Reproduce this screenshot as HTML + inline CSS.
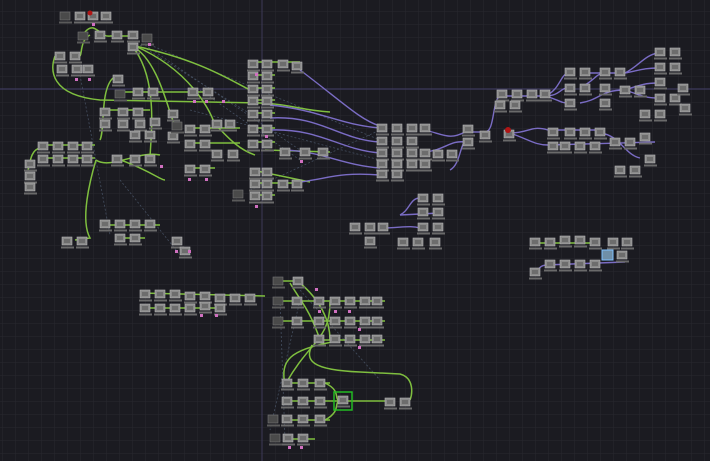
<!DOCTYPE html>
<html><head><meta charset="utf-8"><style>
html,body{margin:0;padding:0;background:#1b1b21;width:710px;height:461px;overflow:hidden}
</style></head><body>
<svg width="710" height="461" viewBox="0 0 710 461" xmlns="http://www.w3.org/2000/svg">
<defs>
<pattern id="g" width="13" height="13" patternUnits="userSpaceOnUse" x="2" y="11">
<path d="M13 0H0V13" fill="none" stroke="#282830" stroke-width="1"/></pattern>
<g id="n"><rect x="0" y="0" width="10" height="8" fill="#8a8a8a" stroke="#b5b5b5" stroke-width="0.6"/><rect x="2" y="2" width="6" height="4" fill="#6d6d6d"/><rect x="-1" y="9.5" width="13" height="2" fill="#6a6a6a"/></g>
<g id="d"><rect x="0" y="0" width="10" height="8" fill="#4a4a4a" stroke="#777" stroke-width="0.6"/><rect x="-1" y="9.5" width="13" height="2" fill="#5a5a5a"/></g>
</defs>
<rect width="710" height="461" fill="#1b1b21"/>
<rect width="710" height="461" fill="url(#g)"/>
<line x1="0" y1="89" x2="710" y2="89" stroke="#45406a" stroke-width="1"/>
<line x1="262" y1="0" x2="262" y2="461" stroke="#3c3a58" stroke-width="1"/>

<!-- dashed faint connections -->
<g stroke="#4d5a6e" stroke-width="0.8" stroke-dasharray="2,2" fill="none" opacity="0.8">
<path d="M145 45 L300 150"/><path d="M150 45 L380 140"/><path d="M140 45 L260 120"/>
<path d="M80 75 L110 235"/><path d="M200 90 L300 160"/><path d="M190 110 L380 160"/>
<path d="M300 290 L380 380"/><path d="M280 300 L285 440"/><path d="M300 300 L270 430"/>
<path d="M120 180 L180 255"/><path d="M250 190 L380 130"/>
</g>

<!-- green connections -->
<g stroke="#7fbf3f" stroke-width="1.5" fill="none">
<path d="M85 32 C95 20 100 38 110 36"/><path d="M110 36 L128 36"/>
<path d="M90 35 C80 40 82 55 80 56"/>
<path d="M132 46 C160 60 170 120 175 125"/><path d="M135 46 C200 60 230 80 250 90"/>
<path d="M135 46 C190 70 210 110 215 125"/><path d="M132 46 C160 80 150 140 150 160"/>
<path d="M55 56 C50 70 50 95 100 100 L260 103 C290 104 300 110 330 112"/>
<path d="M113 78 C100 90 105 130 100 140"/>
<path d="M120 92 L140 92 L210 92"/><path d="M100 110 L150 110"/>
<path d="M42 145 L95 145"/><path d="M42 158 L95 158"/>
<path d="M40 148 C30 150 30 165 28 170"/>
<path d="M96 160 C110 170 140 150 160 155"/>
<path d="M96 160 C90 180 80 220 90 238 L75 240"/>
<path d="M115 158 C150 170 160 180 165 180"/>
<path d="M185 128 L240 128"/><path d="M185 143 L240 143"/><path d="M185 168 L215 168"/>
<path d="M215 124 C230 140 240 150 255 155"/>
<path d="M250 62 L300 62"/><path d="M250 75 L275 75"/>
<path d="M250 88 L275 88"/><path d="M250 100 L275 100"/><path d="M250 113 L275 113"/>
<path d="M250 128 L275 128"/><path d="M250 142 L275 142"/><path d="M265 150 L330 152"/>
<path d="M252 170 L310 182"/><path d="M252 183 L300 183"/><path d="M252 195 L275 195"/>
<path d="M100 225 L160 225"/><path d="M115 238 L145 238"/>
<path d="M140 293 L265 296"/><path d="M140 308 L225 308"/>
<path d="M283 281 L300 281"/><path d="M283 301 L385 301"/><path d="M283 321 L385 321"/>
<path d="M290 283 C300 300 310 310 320 340"/><path d="M300 283 C320 300 330 320 330 340"/>
<path d="M314 340 L385 340"/>
<path d="M330 302 C330 340 310 340 285 385"/>
<path d="M332 342 C290 350 280 360 285 385"/>
<path d="M312 345 C305 360 310 370 360 372 L400 374 C415 378 412 395 410 400"/>
<path d="M285 383 L330 383"/><path d="M285 401 L395 401"/><path d="M285 420 L330 420"/>
<path d="M325 383 C340 390 335 398 338 400"/><path d="M325 420 C340 412 335 404 338 402"/>
<path d="M285 439 L315 439"/>
<path d="M533 243 L600 243"/>
</g>

<!-- purple connections -->
<g stroke="#7a6cc4" stroke-width="1.4" fill="none">
<path d="M270 105 C320 110 340 125 380 128"/><path d="M270 118 C320 115 340 140 380 142"/>
<path d="M270 130 C320 128 340 150 380 153"/><path d="M280 150 C320 150 340 165 380 168"/>
<path d="M300 182 C330 178 340 172 380 175"/><path d="M300 70 C340 100 360 120 380 126"/>
<path d="M425 130 C445 135 450 140 465 132"/><path d="M425 152 C445 150 450 140 465 142"/>
<path d="M450 170 C460 165 460 145 465 142"/><path d="M470 132 L485 132"/>
<path d="M485 132 C495 132 492 100 500 96"/><path d="M500 96 L545 96"/>
<path d="M545 96 C560 90 560 75 568 73"/><path d="M545 96 C560 96 560 88 568 88"/><path d="M545 96 C560 100 560 103 568 103"/>
<path d="M580 73 L625 73"/><path d="M580 88 C595 80 595 75 603 73"/><path d="M580 103 C600 100 600 90 625 90"/>
<path d="M625 73 C640 65 645 55 658 53"/><path d="M625 73 C640 70 645 68 658 68"/><path d="M625 90 C640 85 645 83 658 83"/><path d="M625 90 C640 95 645 98 658 98"/>
<path d="M510 133 C530 133 530 125 548 130"/><path d="M510 133 C530 140 535 145 548 145"/>
<path d="M548 130 L600 130"/><path d="M548 145 L655 142"/><path d="M600 133 C620 135 625 155 640 158"/>
<path d="M400 215 C410 210 410 198 420 198"/><path d="M400 215 L440 213"/><path d="M380 228 C400 228 410 225 420 228"/>
<path d="M545 265 L625 262"/><path d="M535 273 C540 268 540 265 548 265"/>
</g>

<!-- left cluster nodes -->
<use href="#d" x="60" y="12"/><use href="#n" x="75" y="12"/><use href="#n" x="88" y="12"/><use href="#n" x="101" y="12"/>
<circle cx="90" cy="13" r="2.5" fill="#b01515"/>
<use href="#d" x="78" y="32"/><use href="#n" x="95" y="31"/><use href="#n" x="112" y="31"/><use href="#n" x="128" y="31"/><use href="#n" x="128" y="43"/><use href="#d" x="142" y="34"/>
<use href="#n" x="55" y="52"/><use href="#n" x="70" y="52"/><use href="#n" x="57" y="65"/><use href="#n" x="72" y="65"/><use href="#n" x="83" y="65"/>
<use href="#n" x="113" y="75"/><use href="#d" x="115" y="90"/><use href="#n" x="133" y="88"/><use href="#n" x="148" y="88"/><use href="#n" x="188" y="88"/><use href="#n" x="203" y="88"/>
<use href="#n" x="100" y="108"/><use href="#n" x="118" y="108"/><use href="#n" x="133" y="108"/><use href="#n" x="100" y="120"/><use href="#n" x="118" y="120"/><use href="#n" x="135" y="120"/><use href="#n" x="150" y="118"/>
<use href="#n" x="130" y="131"/><use href="#n" x="145" y="131"/><use href="#n" x="168" y="110"/><use href="#n" x="168" y="132"/><use href="#d" x="172" y="122"/>
<use href="#n" x="38" y="142"/><use href="#n" x="53" y="142"/><use href="#n" x="68" y="142"/><use href="#n" x="82" y="142"/>
<use href="#n" x="38" y="155"/><use href="#n" x="53" y="155"/><use href="#n" x="68" y="155"/><use href="#n" x="82" y="155"/>
<use href="#n" x="25" y="160"/><use href="#n" x="25" y="172"/><use href="#n" x="25" y="183"/>
<use href="#n" x="112" y="155"/><use href="#n" x="130" y="155"/><use href="#n" x="145" y="155"/>
<use href="#n" x="185" y="125"/><use href="#n" x="200" y="125"/><use href="#n" x="185" y="140"/><use href="#n" x="200" y="140"/><use href="#n" x="185" y="165"/><use href="#n" x="200" y="165"/>
<use href="#n" x="212" y="120"/><use href="#n" x="225" y="120"/><use href="#n" x="212" y="150"/><use href="#n" x="228" y="150"/>
<use href="#n" x="248" y="60"/><use href="#n" x="262" y="60"/><use href="#n" x="278" y="60"/><use href="#n" x="292" y="62"/>
<use href="#n" x="248" y="72"/><use href="#n" x="262" y="72"/>
<use href="#n" x="248" y="85"/><use href="#n" x="262" y="85"/><use href="#n" x="248" y="97"/><use href="#n" x="262" y="97"/>
<use href="#n" x="248" y="110"/><use href="#n" x="262" y="110"/><use href="#n" x="248" y="125"/><use href="#n" x="262" y="125"/>
<use href="#n" x="248" y="140"/><use href="#n" x="262" y="140"/><use href="#n" x="280" y="148"/><use href="#n" x="300" y="148"/><use href="#n" x="318" y="148"/>
<use href="#n" x="250" y="168"/><use href="#n" x="262" y="168"/><use href="#n" x="250" y="180"/><use href="#n" x="262" y="180"/><use href="#n" x="250" y="192"/><use href="#n" x="262" y="192"/>
<use href="#n" x="278" y="180"/><use href="#n" x="292" y="180"/><use href="#d" x="233" y="190"/>
<use href="#n" x="62" y="237"/><use href="#n" x="77" y="237"/><use href="#n" x="100" y="220"/><use href="#n" x="115" y="220"/><use href="#n" x="130" y="220"/><use href="#n" x="145" y="220"/>
<use href="#n" x="115" y="234"/><use href="#n" x="130" y="234"/><use href="#n" x="172" y="237"/><use href="#n" x="180" y="247"/>

<!-- middle purple cluster -->
<use href="#n" x="377" y="124"/><use href="#n" x="392" y="124"/><use href="#n" x="407" y="124"/><use href="#n" x="420" y="124"/>
<use href="#n" x="377" y="137"/><use href="#n" x="392" y="137"/><use href="#n" x="407" y="137"/>
<use href="#n" x="377" y="149"/><use href="#n" x="392" y="149"/><use href="#n" x="407" y="149"/><use href="#n" x="420" y="149"/>
<use href="#n" x="377" y="160"/><use href="#n" x="392" y="160"/><use href="#n" x="407" y="160"/><use href="#n" x="420" y="160"/>
<use href="#n" x="377" y="170"/><use href="#n" x="392" y="170"/>
<use href="#n" x="433" y="150"/><use href="#n" x="447" y="150"/>
<use href="#n" x="463" y="125"/><use href="#n" x="463" y="138"/><use href="#n" x="480" y="131"/>
<use href="#n" x="497" y="90"/><use href="#n" x="512" y="90"/><use href="#n" x="527" y="90"/><use href="#n" x="540" y="90"/><use href="#n" x="495" y="101"/><use href="#n" x="510" y="101"/>
<use href="#n" x="504" y="130"/><circle cx="508" cy="130" r="3" fill="#b01515"/>
<use href="#n" x="548" y="128"/><use href="#n" x="548" y="142"/><use href="#n" x="565" y="128"/><use href="#n" x="580" y="128"/><use href="#n" x="595" y="128"/>
<use href="#n" x="560" y="142"/><use href="#n" x="575" y="142"/><use href="#n" x="590" y="142"/><use href="#n" x="610" y="138"/><use href="#n" x="625" y="138"/><use href="#n" x="640" y="133"/>
<use href="#n" x="615" y="166"/><use href="#n" x="630" y="166"/><use href="#n" x="645" y="155"/>
<use href="#n" x="565" y="68"/><use href="#n" x="580" y="68"/><use href="#n" x="565" y="84"/><use href="#n" x="580" y="84"/><use href="#n" x="565" y="99"/>
<use href="#n" x="600" y="68"/><use href="#n" x="615" y="68"/><use href="#n" x="600" y="84"/><use href="#n" x="600" y="99"/><use href="#n" x="620" y="86"/><use href="#n" x="635" y="86"/>
<use href="#n" x="655" y="48"/><use href="#n" x="670" y="48"/><use href="#n" x="655" y="63"/><use href="#n" x="670" y="63"/><use href="#n" x="655" y="78"/><use href="#n" x="655" y="94"/><use href="#n" x="670" y="94"/>
<use href="#n" x="678" y="84"/><use href="#n" x="680" y="104"/><use href="#n" x="640" y="110"/><use href="#n" x="655" y="110"/>
<use href="#n" x="418" y="194"/><use href="#n" x="433" y="194"/><use href="#n" x="418" y="208"/><use href="#n" x="433" y="208"/><use href="#n" x="418" y="223"/><use href="#n" x="433" y="223"/>
<use href="#n" x="398" y="238"/><use href="#n" x="413" y="238"/><use href="#n" x="430" y="238"/>
<use href="#n" x="350" y="223"/><use href="#n" x="365" y="223"/><use href="#n" x="378" y="223"/><use href="#n" x="365" y="237"/>

<!-- right small cluster -->
<use href="#n" x="530" y="238"/><use href="#n" x="545" y="238"/><use href="#n" x="560" y="236"/><use href="#n" x="575" y="236"/><use href="#n" x="590" y="238"/><use href="#n" x="608" y="238"/><use href="#n" x="622" y="238"/>
<use href="#n" x="545" y="260"/><use href="#n" x="560" y="260"/><use href="#n" x="575" y="260"/><use href="#n" x="590" y="260"/>
<rect x="602" y="250" width="11" height="10" fill="#6f8fa8" stroke="#7fc0ff" stroke-width="1"/><use href="#n" x="617" y="251"/>
<use href="#n" x="530" y="268"/>

<!-- bottom-left cluster -->
<use href="#n" x="140" y="290"/><use href="#n" x="155" y="290"/><use href="#n" x="170" y="290"/><use href="#n" x="185" y="292"/><use href="#n" x="200" y="292"/><use href="#n" x="215" y="294"/><use href="#n" x="230" y="294"/><use href="#n" x="245" y="294"/>
<use href="#n" x="140" y="304"/><use href="#n" x="155" y="304"/><use href="#n" x="170" y="304"/><use href="#n" x="185" y="304"/><use href="#n" x="200" y="302"/><use href="#n" x="215" y="304"/>

<!-- bottom-center cluster -->
<use href="#d" x="273" y="277"/><use href="#n" x="293" y="277"/>
<use href="#d" x="273" y="297"/><use href="#n" x="292" y="297"/><use href="#n" x="314" y="297"/><use href="#n" x="330" y="297"/><use href="#n" x="345" y="297"/><use href="#n" x="360" y="297"/><use href="#n" x="372" y="297"/>
<use href="#d" x="273" y="317"/><use href="#n" x="292" y="317"/><use href="#n" x="314" y="317"/><use href="#n" x="330" y="317"/><use href="#n" x="345" y="317"/><use href="#n" x="360" y="317"/><use href="#n" x="372" y="317"/>
<use href="#n" x="314" y="335"/><use href="#n" x="330" y="335"/><use href="#n" x="345" y="335"/><use href="#n" x="360" y="335"/><use href="#n" x="372" y="335"/>
<use href="#n" x="282" y="379"/><use href="#n" x="298" y="379"/><use href="#n" x="315" y="379"/>
<use href="#n" x="282" y="397"/><use href="#n" x="298" y="397"/><use href="#n" x="315" y="397"/>
<rect x="334" y="392" width="18" height="18" fill="none" stroke="#22bb22" stroke-width="1.5"/><use href="#n" x="338" y="396"/>
<use href="#n" x="385" y="398"/><use href="#n" x="400" y="398"/>
<use href="#d" x="268" y="415"/><use href="#n" x="282" y="415"/><use href="#n" x="298" y="415"/><use href="#n" x="315" y="415"/>
<use href="#d" x="270" y="434"/><use href="#n" x="283" y="434"/><use href="#n" x="298" y="434"/>

<!-- pink markers -->
<g fill="#d070c0">
<rect x="92" y="23" width="3" height="3"/><rect x="148" y="43" width="3" height="3"/><rect x="75" y="78" width="3" height="3"/><rect x="88" y="78" width="3" height="3"/>
<rect x="193" y="100" width="3" height="3"/><rect x="205" y="100" width="3" height="3"/><rect x="222" y="100" width="3" height="3"/>
<rect x="255" y="73" width="3" height="3"/><rect x="265" y="135" width="3" height="3"/><rect x="300" y="160" width="3" height="3"/>
<rect x="188" y="178" width="3" height="3"/><rect x="205" y="178" width="3" height="3"/><rect x="255" y="205" width="3" height="3"/>
<rect x="160" y="165" width="3" height="3"/><rect x="175" y="250" width="3" height="3"/><rect x="188" y="250" width="3" height="3"/>
<rect x="315" y="288" width="3" height="3"/><rect x="318" y="310" width="3" height="3"/><rect x="334" y="310" width="3" height="3"/><rect x="348" y="310" width="3" height="3"/>
<rect x="358" y="328" width="3" height="3"/><rect x="358" y="346" width="3" height="3"/><rect x="288" y="446" width="3" height="3"/><rect x="300" y="446" width="3" height="3"/>
<rect x="200" y="314" width="3" height="3"/><rect x="215" y="314" width="3" height="3"/>
</g>
</svg>
</body></html>
